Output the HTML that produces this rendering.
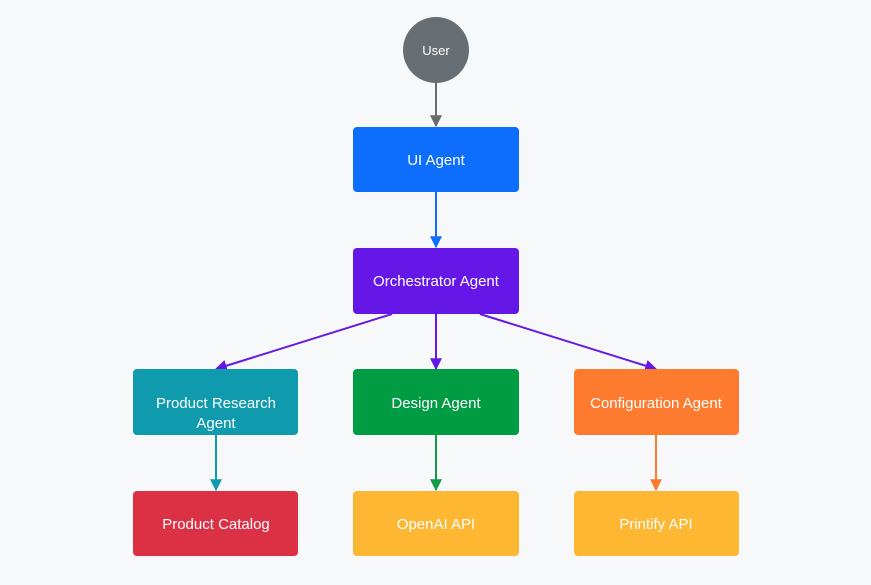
<!DOCTYPE html>
<html><head><style>
html,body{margin:0;padding:0;background:#f7f8fa;}
svg{display:block;}
text{font-family:"Liberation Sans",Arial,sans-serif;fill:#fff;text-anchor:middle;}
</style></head><body>
<svg width="871" height="585" viewBox="0 0 871 585" xmlns="http://www.w3.org/2000/svg">
<rect width="871" height="585" fill="#f7f8fa"/>
<defs>
<marker id="m1" viewBox="0 0 10 10" refX="9" refY="5" markerWidth="6" markerHeight="6" orient="auto"><path d="M0,0L10,5L0,10z" fill="#666b70"/></marker>
<marker id="m2" viewBox="0 0 10 10" refX="9" refY="5" markerWidth="6" markerHeight="6" orient="auto"><path d="M0,0L10,5L0,10z" fill="#0d6efd"/></marker>
<marker id="m3" viewBox="0 0 10 10" refX="9" refY="5" markerWidth="6" markerHeight="6" orient="auto"><path d="M0,0L10,5L0,10z" fill="#6517e8"/></marker>
<marker id="m4" viewBox="0 0 10 10" refX="9" refY="5" markerWidth="6" markerHeight="6" orient="auto"><path d="M0,0L10,5L0,10z" fill="#0f9aae"/></marker>
<marker id="m5" viewBox="0 0 10 10" refX="9" refY="5" markerWidth="6" markerHeight="6" orient="auto"><path d="M0,0L10,5L0,10z" fill="#139a47"/></marker>
<marker id="m6" viewBox="0 0 10 10" refX="9" refY="5" markerWidth="6" markerHeight="6" orient="auto"><path d="M0,0L10,5L0,10z" fill="#fd7a2e"/></marker>
</defs>
<g stroke-width="2" fill="none">
<line x1="436" y1="83" x2="436" y2="126" stroke="#666b70" marker-end="url(#m1)"/>
<line x1="436" y1="192" x2="436" y2="247" stroke="#0d6efd" marker-end="url(#m2)"/>
<line x1="436" y1="314" x2="436" y2="369" stroke="#6517e8" marker-end="url(#m3)"/>
<line x1="392" y1="314" x2="216" y2="369" stroke="#6517e8" marker-end="url(#m3)"/>
<line x1="480" y1="314" x2="656" y2="369" stroke="#6517e8" marker-end="url(#m3)"/>
<line x1="216" y1="435" x2="216" y2="490" stroke="#0f9aae" marker-end="url(#m4)"/>
<line x1="436" y1="435" x2="436" y2="490" stroke="#139a47" marker-end="url(#m5)"/>
<line x1="656" y1="435" x2="656" y2="490" stroke="#fd7a2e" marker-end="url(#m6)"/>
</g>
<circle cx="436" cy="50" r="33" fill="#676e73"/>
<text x="436" y="55" font-size="13">User</text>
<rect x="353" y="127" width="166" height="65" rx="4" fill="#0d6efd"/>
<text x="436" y="165" font-size="15">UI Agent</text>
<rect x="353" y="248" width="166" height="66" rx="4" fill="#6517e8"/>
<text x="436" y="286" font-size="15">Orchestrator Agent</text>
<rect x="133" y="369" width="165" height="66" rx="4" fill="#0f9aae"/>
<text x="216" y="408" font-size="15">Product Research</text>
<text x="216" y="428" font-size="15">Agent</text>
<rect x="353" y="369" width="166" height="66" rx="4" fill="#009c44"/>
<text x="436" y="408" font-size="15">Design Agent</text>
<rect x="574" y="369" width="165" height="66" rx="4" fill="#fd7a2e"/>
<text x="656" y="408" font-size="15">Configuration Agent</text>
<rect x="133" y="491" width="165" height="65" rx="4" fill="#dc3145"/>
<text x="216" y="529" font-size="15">Product Catalog</text>
<rect x="353" y="491" width="166" height="65" rx="4" fill="#fdb733"/>
<text x="436" y="529" font-size="15">OpenAI API</text>
<rect x="574" y="491" width="165" height="65" rx="4" fill="#fdb733"/>
<text x="656" y="529" font-size="15">Printify API</text>
</svg>
</body></html>
